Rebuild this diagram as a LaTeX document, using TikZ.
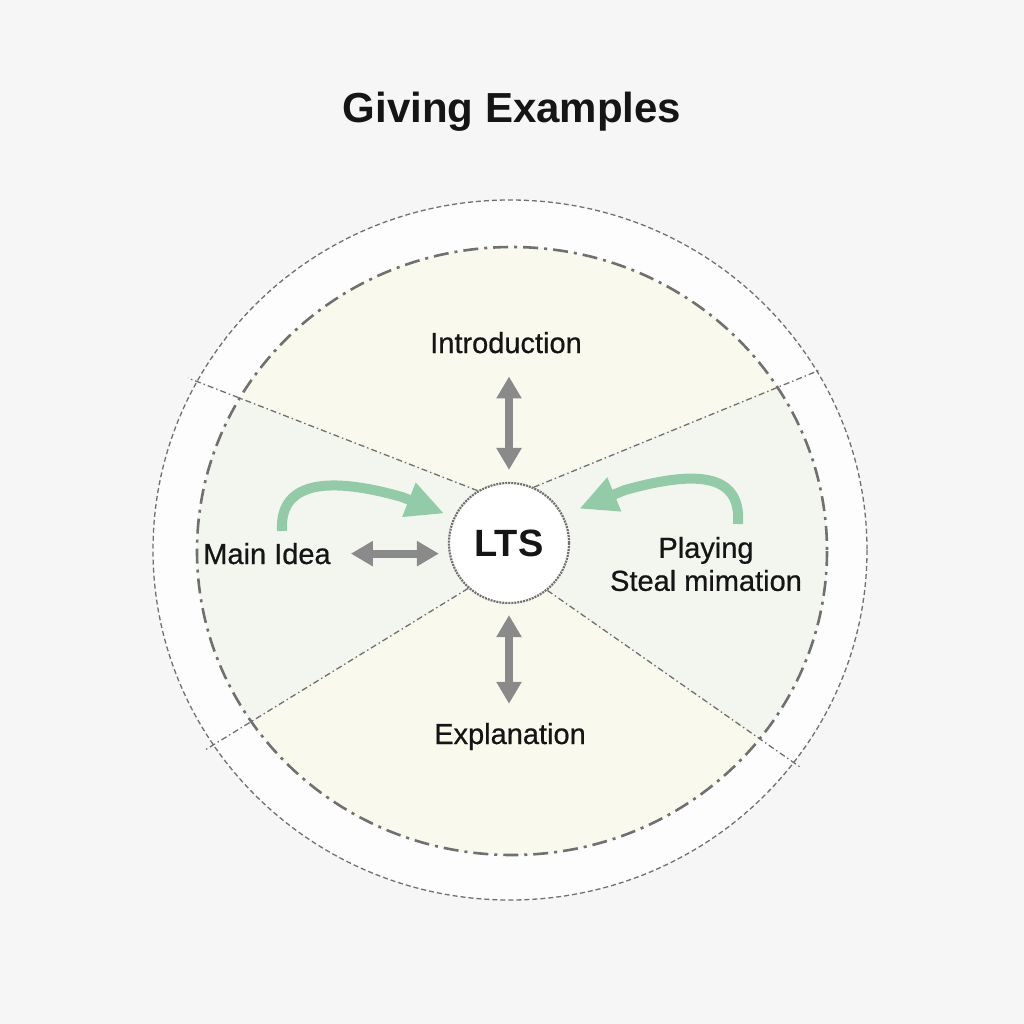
\documentclass[tikz,border=0pt]{standalone}
\usepackage{fontspec}
\setmainfont{Liberation Sans}
\newfontfamily\medfont{Liberation Sans}[FakeBold=0.6]
\usetikzlibrary{arrows.meta}
\definecolor{bg}{HTML}{F6F6F6}
\definecolor{ring}{HTML}{FDFDFD}
\definecolor{secy}{HTML}{F9F9EE}
\definecolor{secg}{HTML}{F3F6EF}
\definecolor{lineg}{HTML}{707070}
\definecolor{arrg}{HTML}{8A8A8A}
\definecolor{grn}{HTML}{93CBA8}
\definecolor{ink}{HTML}{151515}
\begin{document}
\begin{tikzpicture}[x=1pt,y=-1pt,
  lbl/.style={inner sep=0pt, text=ink, font=\medfont\fontsize{29}{33}\selectfont},
  grayarrow/.style={draw=arrg, line width=8pt,
     {Triangle[length=22pt,width=24pt]}-{Triangle[length=22pt,width=24pt]}},
  greenarrow/.style={draw=grn, line width=10pt, line cap=butt,
     -{Triangle[length=38pt,width=34pt]}},
  spoke/.style={draw=lineg, line width=1.3pt, dash pattern=on 6pt off 3pt on 1.5pt off 3pt},
]
\fill[bg] (0,0) rectangle (1024,1024);
\useasboundingbox (0,0) rectangle (1024,1024);

% outer ring
\fill[ring] (510,550) ellipse [x radius=357, y radius=350];
% inner disc
\fill[secg] (512,551) ellipse [x radius=315, y radius=304];
\begin{scope}
  \clip (512,551) ellipse [x radius=315, y radius=304];
  \fill[secy] (509,543) -- (477,490) -- (130,356) -- (130,150) -- (900,150) -- (891,341) -- (535,485) -- cycle;
  \fill[secy] (509,543) -- (467,590) -- (205,750) -- (140,790) -- (140,950) -- (900,950) -- (862,810) -- (800,767) -- (550,593) -- cycle;
\end{scope}

\draw[lineg, line width=1.3pt, dash pattern=on 5pt off 3pt] (510,550) ellipse [x radius=357, y radius=350];
\draw[lineg, line width=2.6pt, dash pattern=on 15pt off 6pt on 3pt off 6pt] (512,551) ellipse [x radius=315, y radius=304];

% center node
\node[circle, minimum size=120pt, inner sep=0pt, fill=white, draw=lineg, line width=2.2pt,
      dash pattern=on 2pt off 1pt, text=ink, font=\fontsize{38}{44}\selectfont\bfseries] (lts) at (509,543) {LTS};

% spokes
\coordinate (ul) at (188,378);
\coordinate (ur) at (820,370);
\coordinate (ll) at (205,750);
\coordinate (lr) at (800,767);
\draw[spoke] (lts.121) -- (ul);
\draw[spoke] (lts.66) -- (ur);
\draw[spoke] (lts.228) -- (ll);
\draw[spoke] (lts.309) -- (lr);

% labels
\node[inner sep=0pt, anchor=base, text=ink, font=\fontsize{42}{50}\selectfont\bfseries] (title) at (512,123) {Giving Examples};
\node[lbl, anchor=base] (intro) at (506,353) {Introduction};
\node[lbl, anchor=base] (main) at (267,564) {Main Idea};
\node[lbl, anchor=base] (expl) at (510,744) {Explanation};
\node[lbl, align=center] (play) at (706,564) {Playing\\Steal mimation};

% gray arrows
\draw[grayarrow, shorten <=12pt, shorten >=23pt] (lts.north) -- (lts.north |- intro.south);
\draw[grayarrow, shorten <=11pt, shorten >=19pt] (lts.south) -- (lts.south |- expl.north);
\draw[grayarrow, shorten <=20pt, shorten >=9pt] (main.east) -- (main.east -| lts.west);

% green arrows
\coordinate (gl) at (282,531);
\coordinate (gr) at (738,524);
\draw[greenarrow, shorten >=10pt] (gl) .. controls (279,478) and (335,478) .. (402,497) -- (lts.155);
\draw[greenarrow, shorten >=17pt] (gr) .. controls (742,470) and (690,472) .. (625,490) -- (lts.27);
\end{tikzpicture}
\end{document}
